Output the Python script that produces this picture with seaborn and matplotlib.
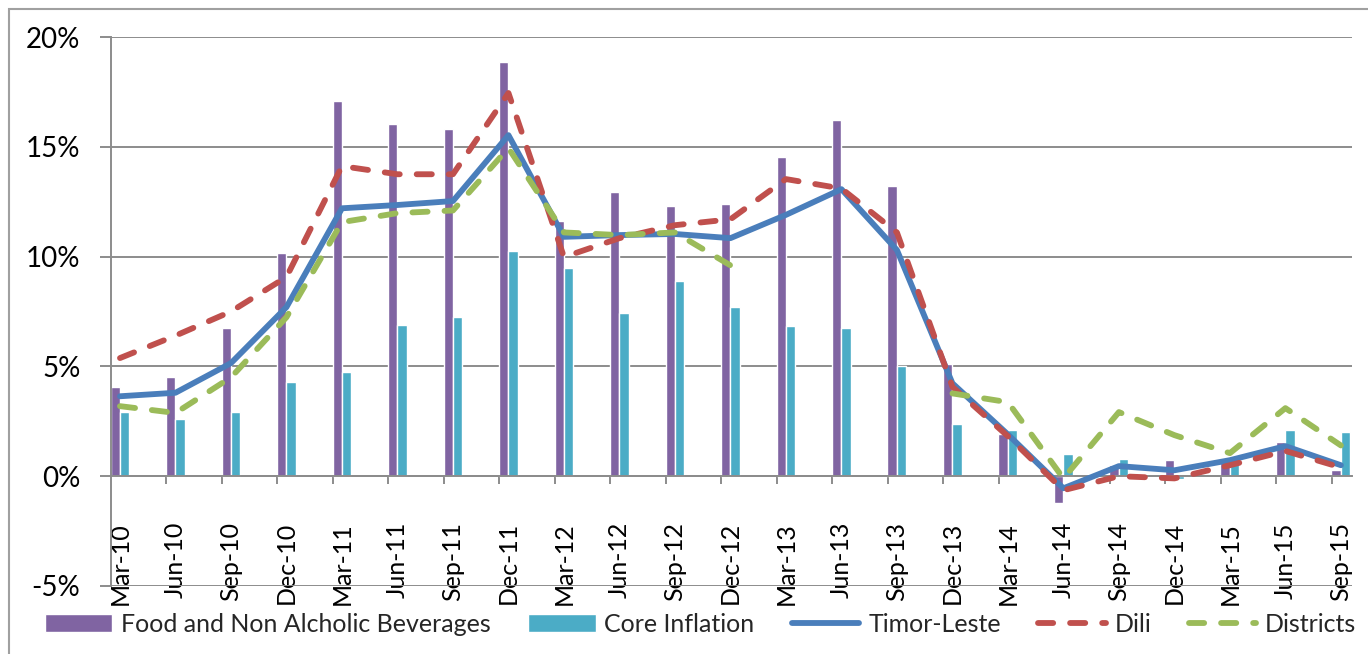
import numpy as np
import pandas as pd
import matplotlib
matplotlib.use("Agg")
import matplotlib.pyplot as plt
import seaborn as sns
from matplotlib.patches import Rectangle

# quarterly periods
periods = ['Mar-10', 'Jun-10', 'Sep-10', 'Dec-10', 'Mar-11', 'Jun-11', 'Sep-11', 'Dec-11',
           'Mar-12', 'Jun-12', 'Sep-12', 'Dec-12', 'Mar-13', 'Jun-13', 'Sep-13', 'Dec-13',
           'Mar-14', 'Jun-14', 'Sep-14', 'Dec-14', 'Mar-15', 'Jun-15', 'Sep-15']

# bar series (% yoy)
food = [4.05, 4.5, 6.74, 10.16, 17.08, 16.04, 15.8, 18.86, 11.6, 12.94, 12.3, 12.39,
        14.53, 16.2, 13.2, 5.1, 1.9, -1.23, 0.5, 0.73, 0.8, 1.55, 0.27]
core = [2.92, 2.6, 2.92, 4.28, 4.74, 6.88, 7.24, 10.25, 9.48, 7.43, 8.88, 7.7,
        6.83, 6.74, 5.0, 2.37, 2.1, 1.0, 0.77, -0.15, 0.55, 2.1, 2.0]

# line series (% yoy)
timor_leste = [3.64, 3.8, 5.15, 7.7, 12.2, 12.35, 12.53, 15.53, 10.9, 10.98, 11.03, 10.84,
               11.9, 13.07, 10.3, 4.23, 1.9, -0.55, 0.46, 0.27, 0.73, 1.37, 0.5]
dili = [5.38, 6.4, 7.5, 9.07, 14.12, 13.75, 13.75, 17.45, 9.98, 10.84, 11.43, 11.7,
        13.53, 13.1, 11.1, 4.07, 1.82, -0.64, 0.0, -0.1, 0.5, 1.15, 0.4]
districts = [3.19, 2.88, 4.5, 7.24, 11.57, 11.98, 12.1, 14.94, 11.1, 10.98, 11.1, 9.6,
             np.nan, np.nan, np.nan, 3.77, 3.37, -0.1, 2.92, 1.87, 1.05, 3.1, 1.4]

food_label = 'Food and Non Alcholic Beverages'
core_label = 'Core Inflation'

sns.set_theme(style="white")
plt.rcParams['font.family'] = ['Lato', 'DejaVu Sans']

grey = '#8C8C8C'

bars = pd.DataFrame({
    'period': periods * 2,
    'value': food + core,
    'series': [food_label] * len(periods) + [core_label] * len(periods),
})

fig = plt.figure(figsize=(13.68, 6.54), dpi=100)
ax = fig.add_axes([111 / 1368, 1 - 586 / 654, (1352 - 111) / 1368, (586 - 37) / 654])

sns.barplot(data=bars, x='period', y='value', hue='series', order=periods,
            palette={food_label: '#8064A2', core_label: '#4BACC6'},
            width=0.34, saturation=1, errorbar=None, ax=ax, zorder=2)

pos = np.arange(len(periods))
lw = 4.2
dash = (0, (2.6, 2.9))
sns.lineplot(x=pos, y=timor_leste, color='#4A7EBB', lw=lw, label='Timor-Leste',
             solid_capstyle='round', ax=ax, zorder=4)
sns.lineplot(x=pos, y=dili, color='#C0504D', lw=lw, linestyle=dash, label='Dili',
             dash_capstyle='round', ax=ax, zorder=5)

# districts has a gap, draw each run separately
d = np.array(districts)
ok = ~np.isnan(d)
runs = np.split(np.arange(len(d)), np.where(np.diff(ok))[0] + 1)
first = True
for r in runs:
    if not ok[r[0]]:
        continue
    sns.lineplot(x=pos[r], y=d[r], color='#9BBB59', lw=lw, linestyle=dash,
                 label='Districts' if first else None, dash_capstyle='round',
                 ax=ax, zorder=6)
    first = False

handles, labels = ax.get_legend_handles_labels()
ax.legend_.remove()

ax.set_xlim(-0.162, 22.2)
ax.set_ylim(-5, 20)
ax.set_yticks([-5, 0, 5, 10, 15, 20])
ax.set_yticklabels([f'{v}%' for v in [-5, 0, 5, 10, 15, 20]])
ax.set_xticks(pos)
ax.set_xticklabels(periods)
ax.set_xticks(pos[1:] - 0.162, minor=True)
ax.set_xlabel('')
ax.set_ylabel('')

ax.grid(axis='y', color=grey, lw=1.4, zorder=0)
ax.set_axisbelow(True)
for s in ['top', 'right']:
    ax.spines[s].set_visible(False)
ax.spines['left'].set_color(grey)
ax.spines['left'].set_linewidth(1.4)
ax.spines['bottom'].set_color(grey)
ax.spines['bottom'].set_linewidth(1.4)
ax.spines['bottom'].set_position(('data', 0))

ax.tick_params(axis='y', which='major', length=8, width=1.4, color=grey, pad=14,
               labelsize=20, labelcolor='black', left=True)
ax.tick_params(axis='x', which='major', length=0, pad=33, labelsize=18, labelcolor='black',
               labelrotation=90)
ax.tick_params(axis='x', which='minor', length=6, width=1.4, color=grey, bottom=True,
               direction='out')

order = [food_label, core_label, 'Timor-Leste', 'Dili', 'Districts']
hmap = dict(zip(labels, handles))
fig.legend([hmap[k] for k in order], order, loc='center', bbox_to_anchor=(0.512, 1 - 624 / 654),
           ncol=5, frameon=False, fontsize=18, handlelength=2.7, handletextpad=0.35,
           columnspacing=1.5, borderaxespad=0)

# outer chart border
fig.patches.append(Rectangle((9 / 1368, -0.2), 1.2, 1.2 - 9 / 654, transform=fig.transFigure,
                             fill=False, edgecolor='#A0A0A0', lw=1.5, clip_on=False))

fig.savefig('out.png', dpi=100)
